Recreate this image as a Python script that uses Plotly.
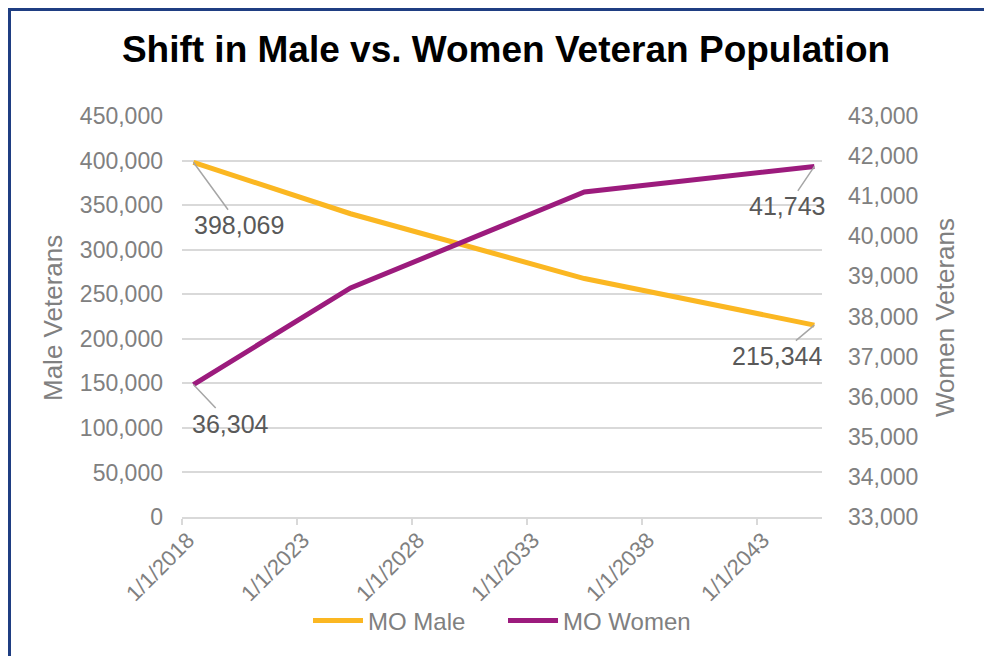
import plotly.graph_objects as go

# ---------------- data ----------------
dates = ["2018-07-01", "2025-05-01", "2035-07-01", "2045-07-01"]
male_vals = [398069, 340300, 267600, 215344]
women_vals = [36304, 38711, 41104, 41743]

x_tick_dates = ["2018-01-01", "2023-01-01", "2028-01-01", "2033-01-01", "2038-01-01", "2043-01-01"]
x_tick_labels = ["1/1/2018", "1/1/2023", "1/1/2028", "1/1/2033", "1/1/2038", "1/1/2043"]

series_names = ["MO Male", "MO Women"]
title_text = "Shift in Male vs. Women Veteran Population"
left_title = "Male Veterans"
right_title = "Women Veterans"

# ---------------- style ----------------
MALE = "#FBB722"
WOMEN = "#9C1B7D"
GRAY = "#808080"
DARK = "#595959"
GRID = "#D9D9D9"
NAVY = "#1F3E82"
FONT = "Liberation Sans, Arial, sans-serif"

OFF = 8  # page body margin
W, H = 984, 648
L, T = 182 - OFF, 116 - OFF
R = W - (822 - OFF)
B = H - (517 - OFF)
PW, PH = W - L - R, H - T - B


def px_x(x):
    """page pixel x -> paper fraction"""
    return (x - OFF - L) / PW


def px_y(y):
    """page pixel y -> paper fraction"""
    return (H - B - (y - OFF)) / PH


fig = go.Figure()
fig.add_trace(go.Scatter(x=dates, y=male_vals, name=series_names[0], mode="lines",
                         line=dict(color=MALE, width=5)))
fig.add_trace(go.Scatter(x=dates, y=women_vals, name=series_names[1], mode="lines",
                         line=dict(color=WOMEN, width=5), yaxis="y2"))


def fmt(v):
    return f"{v:,}"


label_specs = [
    (dates[0], male_vals[0], "y", 46, 63),
    (dates[-1], male_vals[-1], "y", -37, 31),
    (dates[0], women_vals[0], "y2", 37, 39),
    (dates[-1], women_vals[-1], "y2", -27, 40),
]
annotations = []
for xd, v, yref, ax, ay in label_specs:
    annotations.append(dict(
        x=xd, y=v, xref="x", yref=yref, text=fmt(v), showarrow=True,
        arrowhead=0, arrowwidth=1.5, arrowcolor="#A6A6A6", ax=ax, ay=ay,
        font=dict(family=FONT, size=25, color=DARK), borderpad=1,
    ))

annotations.append(dict(x=px_x(53), y=px_y(318), xref="paper", yref="paper",
                        xanchor="center", yanchor="middle",
                        text=left_title, textangle=-90, showarrow=False,
                        font=dict(family=FONT, size=26, color=GRAY)))
annotations.append(dict(x=px_x(945), y=px_y(318), xref="paper", yref="paper",
                        xanchor="center", yanchor="middle",
                        text=right_title, textangle=-90, showarrow=False,
                        font=dict(family=FONT, size=26, color=GRAY)))

shapes = [
    dict(type="rect", xref="paper", yref="paper", x0=px_x(8), x1=px_x(1000),
         y0=px_y(11), y1=px_y(8), fillcolor=NAVY, line=dict(width=0), layer="above"),
    dict(type="rect", xref="paper", yref="paper", x0=px_x(8), x1=px_x(11),
         y0=px_y(660), y1=px_y(8), fillcolor=NAVY, line=dict(width=0), layer="above"),
]

fig.update_layout(
    width=W, height=H,
    margin=dict(l=L, r=R, t=T, b=B),
    paper_bgcolor="white", plot_bgcolor="white",
    font=dict(family=FONT, color=GRAY, size=23),
    title=dict(text=f"<b>{title_text}</b>", x=(506 - OFF) / W, y=1 - (49 - OFF) / H,
               xref="container", yref="container", xanchor="center", yanchor="middle",
               font=dict(family=FONT, size=37, color="black")),
    xaxis=dict(type="date", range=["2018-01-01", "2045-10-30"],
               tickmode="array", tickvals=x_tick_dates, ticktext=x_tick_labels,
               tickangle=-45, ticks="outside", ticklen=6, tickcolor=GRID, tickwidth=1.5,
               showline=True, linecolor=GRID, linewidth=1.5, showgrid=False, zeroline=False,
               tickfont=dict(size=22, color=GRAY), ticklabelstandoff=-6, ticklabelshift=6),
    yaxis=dict(range=[0, 450000], dtick=50000, tickformat=",", showgrid=True,
               gridcolor=GRID, gridwidth=1.5, zeroline=False, showline=False,
               tickfont=dict(size=23, color=GRAY), ticklabelstandoff=18),
    yaxis2=dict(overlaying="y", side="right", range=[33000, 43000], dtick=1000,
                tickformat=",", showgrid=False, zeroline=False, showline=False,
                tickfont=dict(size=23, color=GRAY), ticklabelstandoff=25),
    legend=dict(orientation="h", x=px_x(503), xanchor="center", y=px_y(621),
                yanchor="middle", font=dict(size=24, color=GRAY),
                bgcolor="rgba(0,0,0,0)", itemwidth=50,
                entrywidth=130, entrywidthmode="pixels"),
    showlegend=True,
    annotations=annotations,
    shapes=shapes,
    hovermode=False,
)

fig.write_html("out.html")
